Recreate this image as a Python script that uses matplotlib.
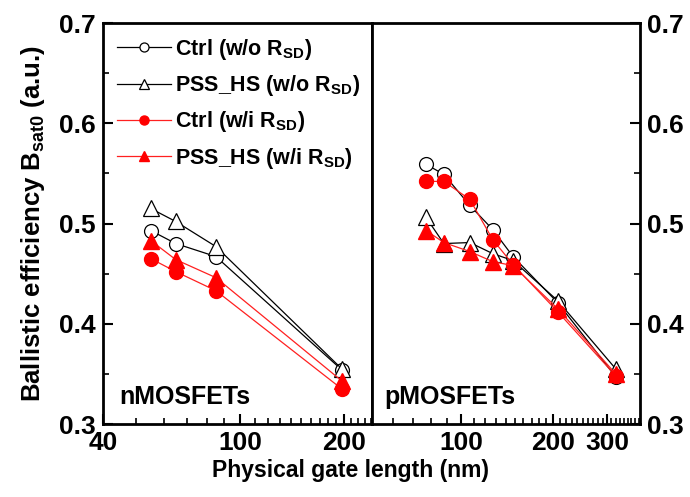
import matplotlib
matplotlib.use("Agg")
import matplotlib.pyplot as plt
import numpy as np
from matplotlib.ticker import FixedLocator, NullFormatter

plt.rcParams['font.family'] = ['Liberation Sans', 'DejaVu Sans']
plt.rcParams['font.weight'] = 'bold'
plt.rcParams['mathtext.fontset'] = 'custom'
plt.rcParams['mathtext.rm'] = 'Liberation Sans:bold'
plt.rcParams['mathtext.bf'] = 'Liberation Sans:bold'
plt.rcParams['mathtext.default'] = 'bf'

# nMOSFETs
n_len = [55, 65, 85, 197]
n_ctrl_wo = [0.493, 0.480, 0.467, 0.354]
n_pss_wo = [0.515, 0.502, 0.477, 0.355]
n_ctrl_wi = [0.465, 0.452, 0.433, 0.335]
n_pss_wi = [0.483, 0.464, 0.446, 0.343]

# pMOSFETs
p_len = [77, 88, 107, 127, 148, 207, 320]
p_ctrl_wo = [0.559, 0.549, 0.518, 0.494, 0.467, 0.421, 0.347]
p_pss_wo = [0.506, 0.480, 0.481, 0.470, 0.463, 0.423, 0.355]
p_ctrl_wi = [0.542, 0.542, 0.524, 0.484, 0.459, 0.412, 0.348]
p_pss_wi = [0.493, 0.481, 0.472, 0.462, 0.458, 0.415, 0.350]

labels = [r'Ctrl (w/o R$_{SD}$)', r'PSS_HS (w/o R$_{SD}$)',
          r'Ctrl (w/i R$_{SD}$)', r'PSS_HS (w/i R$_{SD}$)']

fig = plt.figure(figsize=(6.9, 4.97), dpi=100)
W, H = 690, 497
axn = fig.add_axes([103 / W, 1 - 424 / H, (372 - 103) / W, (424 - 23) / H])
axp = fig.add_axes([372 / W, 1 - 424 / H, (640 - 372) / W, (424 - 23) / H])


def draw(ax, x, a, b, c, d):
    ax.plot(x, a, '-o', color='black', mfc='white', mec='black', ms=10, lw=0.9, mew=0.9, label=labels[0])
    ax.plot(x, b, '-^', color='black', mfc='white', mec='black', ms=11, lw=0.9, mew=0.9, label=labels[1])
    ax.plot(x, c, '-o', color='#ff2020', mfc='red', mec='red', ms=10, lw=0.9, label=labels[2])
    ax.plot(x, d, '-^', color='#ff2020', mfc='red', mec='red', ms=11, lw=0.9, label=labels[3])


draw(axn, n_len, n_ctrl_wo, n_pss_wo, n_ctrl_wi, n_pss_wi)
draw(axp, p_len, p_ctrl_wo, p_pss_wo, p_ctrl_wi, p_pss_wi)

axn.set_xscale('log')
axp.set_xscale('log')
axn.set_xlim(40, 241)
axp.set_xlim(51.3, 384)
for ax in (axn, axp):
    ax.set_ylim(0.3, 0.7)
    ax.yaxis.set_major_locator(FixedLocator([0.3, 0.4, 0.5, 0.6, 0.7]))
    ax.yaxis.set_minor_locator(FixedLocator([0.35, 0.45, 0.55, 0.65]))
    ax.xaxis.set_minor_formatter(NullFormatter())
    for s in ax.spines.values():
        s.set_linewidth(2)
    ax.tick_params(which='major', direction='in', length=7, width=1.5, labelsize=19, pad=5)
    ax.tick_params(which='minor', direction='in', length=4, width=1.2)

axn.xaxis.set_major_locator(FixedLocator([40, 100, 200]))
axn.xaxis.set_minor_locator(FixedLocator(np.arange(50, 250, 10)))
axn.set_xticklabels(['40', '100', '200'], fontweight='bold')
axn.tick_params(axis='y', left=True, right=False)
axn.tick_params(axis='x', top=False)

axp.xaxis.set_major_locator(FixedLocator([100, 200, 300]))
axp.xaxis.set_minor_locator(FixedLocator(np.arange(60, 390, 10)))
axp.set_xticklabels(['100', '200', '300'], fontweight='bold')
axp.yaxis.tick_right()
axp.tick_params(axis='y', which='both', left=False, right=True)
axp.set_yticklabels(['0.3', '0.4', '0.5', '0.6', '0.7'], fontweight='bold')
axn.set_yticklabels(['0.3', '0.4', '0.5', '0.6', '0.7'], fontweight='bold')

axn.text(0.06, 0.05, 'nMOSFETs', transform=axn.transAxes, fontsize=18, fontweight='bold')
axp.text(0.045, 0.05, 'pMOSFETs', transform=axp.transAxes, fontsize=18, fontweight='bold')

axn.legend(loc='upper left', bbox_to_anchor=(0.0, 1.0), frameon=False,
           handlelength=2.5, handletextpad=0.2, labelspacing=0.52, markerscale=0.65,
           borderaxespad=0.25, prop={'weight': 'bold', 'size': 15.5})

axn.set_ylabel(r'Ballistic efficiency B$_{sat0}$ (a.u.)', fontsize=18.5, fontweight='bold', labelpad=9)
fig.text(350 / W, 1 - 470 / H, 'Physical gate length (nm)', ha='center', va='center',
         fontsize=16.5, fontweight='bold')

fig.savefig('out.png', dpi=100)
